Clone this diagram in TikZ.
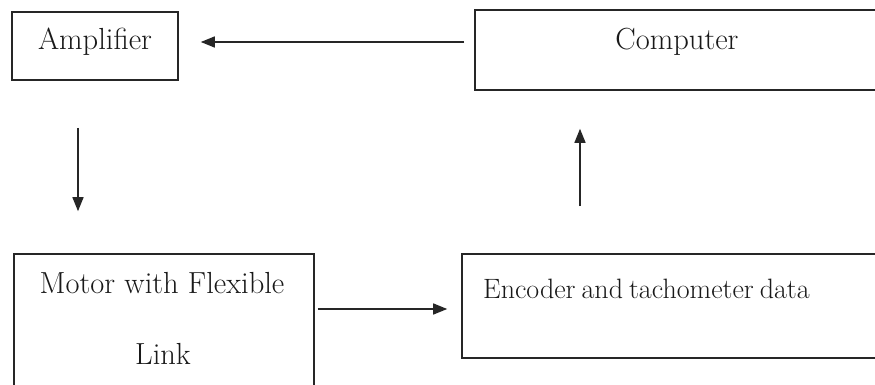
\documentclass[tikz,border=0pt]{standalone}
\usetikzlibrary{arrows.meta}
\begin{document}
\begin{tikzpicture}[x=1pt,y=-1pt,
  box/.style={draw=black!85,line width=1.6pt,inner sep=0pt,rectangle},
  lbl/.style={anchor=base,inner sep=0pt,text=black!90,font=\fontsize{30.5}{36}\selectfont},
  arr/.style={draw=black!85,line width=1.4pt,-{Triangle[length=14pt,width=11pt]}}]
\clip (0,0) rectangle (875,385);
\useasboundingbox (0,0) rectangle (875,385);
\fill[white] (0,0) rectangle (875,385);
\node[box,minimum width=166pt,minimum height=68pt] (amp) at (95,46) {};
\node[box,minimum width=415pt,minimum height=80pt] (comp) at (682.5,50) {};
\node[box,minimum width=300pt,minimum height=146pt] (motor) at (164,327) {};
\node[box,minimum width=428pt,minimum height=104pt] (enc) at (676,306) {};
\node[lbl] (ampT) at (95,50) {Amplifier};
\node[lbl] (compT) at (677,50) {Computer};
\node[lbl] (motorT1) at (162,293) {Motor with Flexible};
\node[lbl] (motorT2) at (163,364) {Link};
\node[lbl,anchor=base west,font=\fontsize{28}{33}\selectfont] (encT) at (483,298) {\spaceskip=6pt\relax Encoder and tachometer data};
\draw[arr] ([xshift=-10pt,yshift=8pt]comp.west) -- ([xshift=22pt,yshift=4pt]amp.east);
\draw[arr] ([xshift=-17pt,yshift=-47pt]amp.south) -- ([xshift=-86pt,yshift=42pt]motor.north);
\draw[arr] ([xshift=-96pt,yshift=47pt]enc.north) -- ([xshift=-102.5pt,yshift=-38pt]comp.south);
\draw[arr] ([xshift=3pt,yshift=18pt]motor.east) -- ([xshift=-14pt,yshift=-3pt]enc.west);
\end{tikzpicture}
\end{document}
